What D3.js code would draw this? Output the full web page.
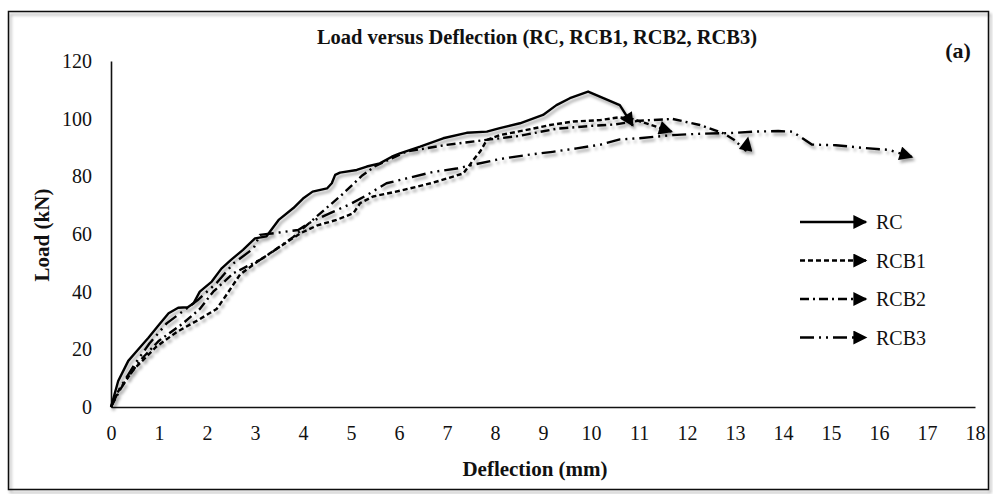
<!DOCTYPE html>
<html>
<head>
<meta charset="utf-8">
<script src="https://cdn.jsdelivr.net/npm/d3@7"></script>
<style>
  body { margin: 0; background: #fff; }
  svg { font-family: "Liberation Serif", "Times New Roman", serif; }
</style>
</head>
<body>
<div id="chart"></div>
<script>
// data: [deflection (mm), load (kN)]
var rc = [[0,0],[0.15,9],[0.36,16],[0.57,20],[0.78,24],[1.0,28.5],[1.2,32.5],[1.4,34.4],[1.6,34.6],[1.72,36],
  [1.85,40],[2.1,43.5],[2.3,48],[2.5,51],[2.75,54.5],[3.0,58.5],[3.24,59.2],[3.5,65],[3.8,69],[4.0,72.3],
  [4.2,74.7],[4.5,75.8],[4.6,77.6],[4.67,80.5],[4.77,81.3],[5.12,82.2],[5.33,83.4],[5.6,84.5],[5.85,86.8],
  [6.02,88],[6.44,90.3],[6.92,93.2],[7.41,95.1],[7.83,95.5],[8.1,96.7],[8.52,98.4],[9.0,101.3],[9.28,104.7],
  [9.56,107.1],[9.94,109.4],[10.6,104.7],[10.87,97.6]];

var rcb1 = [[0,0],[0.12,4.7],[0.46,12.8],[0.95,21],[1.37,26],[1.85,30.5],[2.2,34],[2.41,39],[2.69,46],
  [3.1,51],[3.52,55.6],[3.94,60.2],[4.3,63],[4.7,64.9],[5.05,67.2],[5.19,70.7],[5.46,73],[6.02,75],[6.37,76.4],
  [6.71,77.8],[7.34,81],[7.55,85.7],[7.69,88.6],[7.83,92.6],[8.1,94.3],[8.66,96.1],[9.15,97.8],[9.63,99],
  [10.19,99.5],[10.6,100.5],[10.88,99.8],[11.68,95.5]];

var rcb2 = [[0,0],[0.19,6],[0.36,10.5],[0.6,16],[1.0,23],[1.5,29],[1.85,34],[2.13,40],[2.55,46.4],[3.1,51],
  [3.38,54],[3.8,59],[4.28,66],[4.83,73.9],[5.22,80.1],[5.5,83.5],[6.16,88.6],[6.99,90.9],[7.9,92.8],[8.5,94],
  [9.28,96.5],[10.0,97.5],[10.5,98],[11.02,99.3],[11.7,99.9],[12.27,97.8],[12.76,94.9],[12.97,92.8],
  [13.22,89],[13.27,93.3]];

var rcb3 = [[0,0],[0.2,7],[0.5,15],[0.8,22],[1.16,29],[1.44,32.5],[1.8,37],[2.2,43],[2.55,49.8],[2.97,55],
  [3.1,59.7],[3.5,60.5],[3.9,61.4],[4.2,64.5],[4.6,67.5],[5.0,70.5],[5.33,73.5],[5.74,77.6],[6.16,79.3],
  [6.7,81.5],[7.2,82.7],[7.51,83.9],[8.1,86],[8.66,87.4],[9.2,88.5],[9.7,89.7],[10.2,91],[10.6,92.8],
  [11.0,93.2],[11.7,94.3],[12.3,94.8],[12.9,95],[13.4,95.5],[13.9,95.7],[14.2,95.5],[14.6,91],[15.1,90.8],
  [15.7,89.8],[16.2,89.2],[16.69,86.7]];

var seriesNames = ["RC", "RCB1", "RCB2", "RCB3"];
var seriesData = [rc, rcb1, rcb2, rcb3];
var dashes = ["none", "5,3", "9,4,2,4", "14,5,2,5,2,5"];
var xTicks = d3.range(0, 19, 1);
var yTicks = [0, 20, 40, 60, 80, 100, 120];

var width = 993, height = 494;
var margin = { top: 61, left: 111 };

var svg = d3.select("#chart").append("svg")
  .attr("width", width)
  .attr("height", height);

var defs = svg.append("defs");
defs.append("filter")
  .attr("id", "shadow")
  .attr("x", "-5%").attr("y", "-5%").attr("width", "110%").attr("height", "120%")
  .append("feDropShadow")
  .attr("dx", 2).attr("dy", 3)
  .attr("stdDeviation", 1.8)
  .attr("flood-color", "#000")
  .attr("flood-opacity", 0.35);

defs.append("marker")
  .attr("id", "arrow")
  .attr("viewBox", "0 0 10 10")
  .attr("refX", 9).attr("refY", 5)
  .attr("markerWidth", 15).attr("markerHeight", 14)
  .attr("markerUnits", "userSpaceOnUse")
  .attr("orient", "auto")
  .append("path")
  .attr("d", "M0,0 L10,5 L0,10 Z")
  .attr("fill", "#000");

// outer frame
svg.append("rect")
  .attr("x", 8.5).attr("y", 11.5)
  .attr("width", 980).attr("height", 478)
  .attr("fill", "none")
  .attr("stroke", "#111")
  .attr("stroke-width", 1.5)
  .attr("filter", "url(#shadow)");

var g = svg.append("g")
  .attr("transform", "translate(" + margin.left + "," + margin.top + ")");

var h = 407 - margin.top;

var x = d3.scaleLinear().domain([0, 18]).range([0, 864]);
var y = d3.scaleLinear().domain([0, 120]).range([h, 0]);

// axes
var xAxis = g.append("g")
  .attr("transform", "translate(0," + h + ")")
  .call(d3.axisBottom(x).tickValues(xTicks).tickSize(0).tickPadding(19).tickFormat(d3.format("d")));
var yAxis = g.append("g")
  .call(d3.axisLeft(y).tickValues(yTicks).tickSize(0).tickPadding(19));

[xAxis, yAxis].forEach(function (a) {
  a.select(".domain").attr("stroke", "#111").attr("stroke-width", 1.6);
  a.selectAll("text")
    .attr("font-family", "Liberation Serif")
    .attr("font-size", 20)
    .attr("fill", "#111");
});

// lines
var line = d3.line()
  .x(function (d) { return x(d[0]); })
  .y(function (d) { return y(d[1]); });

var lines = g.append("g").attr("filter", "url(#shadow)");
seriesData.forEach(function (data, i) {
  lines.append("path")
    .datum(data)
    .attr("d", line)
    .attr("fill", "none")
    .attr("stroke", "#000")
    .attr("stroke-width", 2.4)
    .attr("stroke-dasharray", dashes[i])
    .attr("stroke-linejoin", "round")
    .attr("marker-end", "url(#arrow)");
});

// legend
var legend = svg.append("g").attr("transform", "translate(800,222)");
seriesNames.forEach(function (name, i) {
  var row = legend.append("g").attr("transform", "translate(0," + (i * 38.5) + ")");
  row.append("line")
    .attr("x1", 0).attr("x2", 66)
    .attr("y1", 0).attr("y2", 0)
    .attr("stroke", "#000")
    .attr("stroke-width", 2.4)
    .attr("stroke-dasharray", dashes[i])
    .attr("marker-end", "url(#arrow)");
  row.append("text")
    .attr("x", 76).attr("y", 7)
    .attr("font-size", 20)
    .attr("fill", "#111")
    .text(name);
});

// titles
svg.append("text")
  .attr("x", 537).attr("y", 44)
  .attr("text-anchor", "middle")
  .attr("font-weight", "bold")
  .attr("font-size", 20.5)
  .attr("fill", "#111")
  .text("Load versus Deflection (RC, RCB1, RCB2, RCB3)");

svg.append("text")
  .attr("x", 958).attr("y", 58)
  .attr("text-anchor", "middle")
  .attr("font-weight", "bold")
  .attr("font-size", 22)
  .attr("fill", "#111")
  .text("(a)");

svg.append("text")
  .attr("x", 535).attr("y", 476)
  .attr("text-anchor", "middle")
  .attr("font-weight", "bold")
  .attr("font-size", 21)
  .attr("fill", "#111")
  .text("Deflection (mm)");

svg.append("text")
  .attr("transform", "translate(49,235) rotate(-90)")
  .attr("text-anchor", "middle")
  .attr("font-weight", "bold")
  .attr("font-size", 21)
  .attr("fill", "#111")
  .text("Load (kN)");
</script>
</body>
</html>
